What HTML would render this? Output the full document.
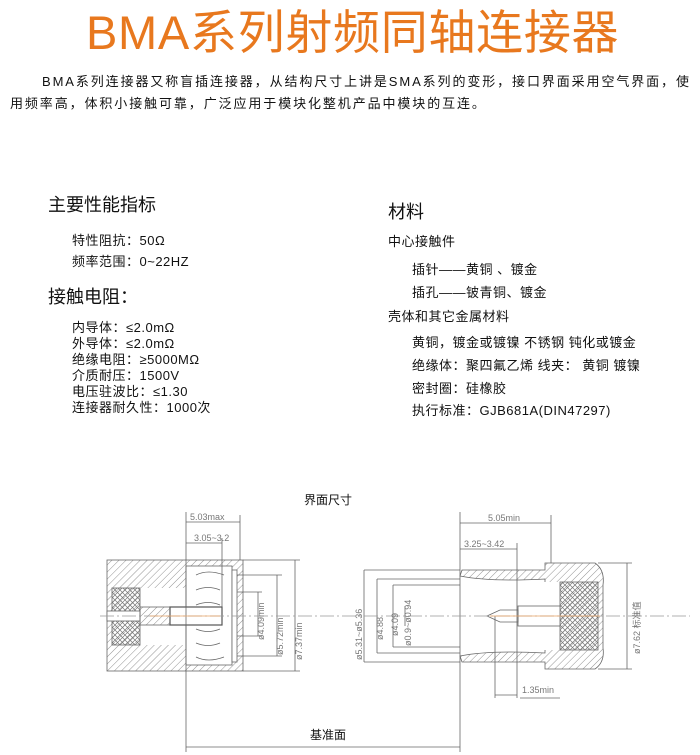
<!DOCTYPE html>
<html><head><meta charset="utf-8"><style>
html,body{margin:0;padding:0;background:#fff}
body{width:700px;height:755px;position:relative;overflow:hidden;font-family:"Liberation Sans","Noto Sans CJK SC",sans-serif;color:#111}
.a{position:absolute;white-space:nowrap;line-height:1}
.t{left:86px;top:9px;font-size:47px;color:#e8781e;letter-spacing:0.7px}
.p{font-size:13px;letter-spacing:1.9px}
.h{font-size:18px}
.s{font-size:13px;letter-spacing:.5px}
</style></head><body>
<div class="a t">BMA系列射频同轴连接器</div>
<div class="a p" style="left:42px;top:75px">BMA系列连接器又称盲插连接器，从结构尺寸上讲是SMA系列的变形，接口界面采用空气界面，使</div>
<div class="a p" style="left:10px;top:97px">用频率高，体积小接触可靠，广泛应用于模块化整机产品中模块的互连。</div>

<div class="a h" style="left:48px;top:196px">主要性能指标</div>
<div class="a s" style="left:72px;top:234px">特性阻抗：50Ω</div>
<div class="a s" style="left:72px;top:255px">频率范围：0~22HZ</div>
<div class="a h" style="left:48px;top:288px">接触电阻：</div>
<div class="a s" style="left:72px;top:321px">内导体：≤2.0mΩ</div>
<div class="a s" style="left:72px;top:337px">外导体：≤2.0mΩ</div>
<div class="a s" style="left:72px;top:353px">绝缘电阻：≥5000MΩ</div>
<div class="a s" style="left:72px;top:369px">介质耐压：1500V</div>
<div class="a s" style="left:72px;top:385px">电压驻波比：≤1.30</div>
<div class="a s" style="left:72px;top:401px">连接器耐久性：1000次</div>

<div class="a h" style="left:388px;top:203px">材料</div>
<div class="a s" style="left:388px;top:235px">中心接触件</div>
<div class="a s" style="left:412px;top:263px">插针——黄铜 、镀金</div>
<div class="a s" style="left:412px;top:286px">插孔——铍青铜、镀金</div>
<div class="a s" style="left:388px;top:310px">壳体和其它金属材料</div>
<div class="a s" style="left:412px;top:336px">黄铜，镀金或镀镍 不锈钢 钝化或镀金</div>
<div class="a s" style="left:412px;top:359px">绝缘体：聚四氟乙烯 线夹： 黄铜 镀镍</div>
<div class="a s" style="left:412px;top:382px">密封圈：硅橡胶</div>
<div class="a s" style="left:412px;top:404px">执行标准：GJB681A(DIN47297)</div>

<div class="a" style="left:304px;top:494px;font-size:12px">界面尺寸</div>
<div class="a" style="left:310px;top:729px;font-size:12px">基准面</div>

<svg width="700" height="755" style="position:absolute;left:0;top:0" font-family="Liberation Sans, sans-serif">
<defs>
<pattern id="hz" width="5" height="5" patternUnits="userSpaceOnUse" patternTransform="rotate(45)"><line x1="0" y1="0" x2="0" y2="5" stroke="#777" stroke-width=".8"/></pattern>
<pattern id="cx" width="5" height="5" patternUnits="userSpaceOnUse"><path d="M0 0L5 5M5 0L0 5" stroke="#777" stroke-width=".7"/></pattern>
</defs>
<g stroke="#666" stroke-width=".8" fill="none">
<rect x="107" y="560" width="136" height="111" fill="url(#hz)"/>
<rect x="140" y="588" width="46" height="57" fill="#fff" stroke="none"/>
<rect x="186" y="566" width="46" height="99" fill="#fff"/>
<rect x="112" y="588" width="28" height="57" fill="url(#cx)"/>
<rect x="107" y="611" width="33" height="10" fill="#fff"/>
<rect x="140" y="607" width="30" height="18" fill="url(#hz)"/>
<rect x="170" y="607" width="52" height="18" fill="#fff" stroke="#555" stroke-width="1.2"/>
<rect x="232" y="570" width="5" height="92" fill="#fff"/>
<path d="M196 575q12 -6 28 0M196 590q12 -5 24 0M196 605q12 -5 24 0M196 629q12 5 24 0M196 643q12 5 24 0M196 657q12 6 28 0"/>
<line x1="186" y1="512" x2="186" y2="752"/>
<line x1="460" y1="512" x2="460" y2="752"/>
<line x1="186" y1="747" x2="460" y2="747"/>
<line x1="240" y1="515" x2="240" y2="560"/>
<line x1="222" y1="538" x2="222" y2="607"/>
<line x1="186" y1="522" x2="240" y2="522"/>
<line x1="186" y1="543" x2="222" y2="543"/>
<line x1="243" y1="560" x2="300" y2="560"/><line x1="243" y1="671" x2="300" y2="671"/>
<line x1="237" y1="575" x2="282" y2="575"/><line x1="237" y1="656" x2="282" y2="656"/>
<line x1="237" y1="592" x2="262" y2="592"/><line x1="237" y1="636" x2="262" y2="636"/>
<line x1="295" y1="560" x2="295" y2="671"/>
<line x1="277" y1="575" x2="277" y2="656"/>
<line x1="258" y1="592" x2="258" y2="636"/>
<path d="M462 570H545V563H595Q605 570 603 585V648Q605 662 595 669H545V662H462L460 656Q490 650 545 653V579Q490 582 460 576Z" fill="url(#hz)"/>
<rect x="462" y="582" width="98" height="68" fill="#fff" stroke="none"/>
<rect x="560" y="582" width="38" height="68" fill="url(#cx)"/>
<rect x="518" y="606" width="42" height="20" fill="#fff"/>
<path d="M487 616L500 610H518V622H500Z" fill="#fff"/>
<line x1="551" y1="515" x2="551" y2="563"/>
<line x1="517" y1="543" x2="517" y2="698"/>
<line x1="495" y1="616" x2="495" y2="698"/>
<line x1="460" y1="523" x2="551" y2="523"/>
<line x1="460" y1="549" x2="517" y2="549"/>
<line x1="495" y1="695" x2="517" y2="695"/>
<line x1="520" y1="698" x2="560" y2="698"/>
<line x1="364" y1="570" x2="460" y2="570"/><line x1="364" y1="662" x2="460" y2="662"/>
<line x1="377" y1="579" x2="460" y2="579"/><line x1="377" y1="653" x2="460" y2="653"/>
<line x1="393" y1="585" x2="460" y2="585"/><line x1="393" y1="647" x2="460" y2="647"/>
<line x1="364" y1="570" x2="364" y2="662"/>
<line x1="377" y1="579" x2="377" y2="653"/>
<line x1="393" y1="585" x2="393" y2="647"/>
<line x1="405" y1="606" x2="405" y2="626"/>
<line x1="598" y1="563" x2="632" y2="563"/><line x1="598" y1="669" x2="632" y2="669"/>
<line x1="627" y1="563" x2="627" y2="669"/>
<line x1="100" y1="616" x2="690" y2="616" stroke-dasharray="14 3 2 3" stroke="#999"/>
<line x1="150" y1="616" x2="220" y2="616" stroke="#e8a060"/>
<line x1="490" y1="616" x2="600" y2="616" stroke="#e8a060"/>
</g>
<g fill="#777" font-size="9">
<text x="190" y="520">5.03max</text>
<text x="194" y="541">3.05~3.2</text>
<text x="488" y="521">5.05min</text>
<text x="464" y="547">3.25~3.42</text>
<text x="522" y="693">1.35min</text>
<text transform="translate(264 640) rotate(-90)">ø4.09min</text>
<text transform="translate(283 655) rotate(-90)">ø5.72min</text>
<text transform="translate(302 660) rotate(-90)">ø7.37min</text>
<text transform="translate(362 660) rotate(-90)">ø5.31~ø5.36</text>
<text transform="translate(383 640) rotate(-90)">ø4.88</text>
<text transform="translate(398 636) rotate(-90)">ø4.09</text>
<text transform="translate(411 646) rotate(-90)">ø0.9~ø0.94</text>
<text transform="translate(640 654) rotate(-90)" font-family="Liberation Sans, Noto Sans CJK SC, sans-serif">ø7.62 标准值</text>
</g>
</svg>
</body></html>
